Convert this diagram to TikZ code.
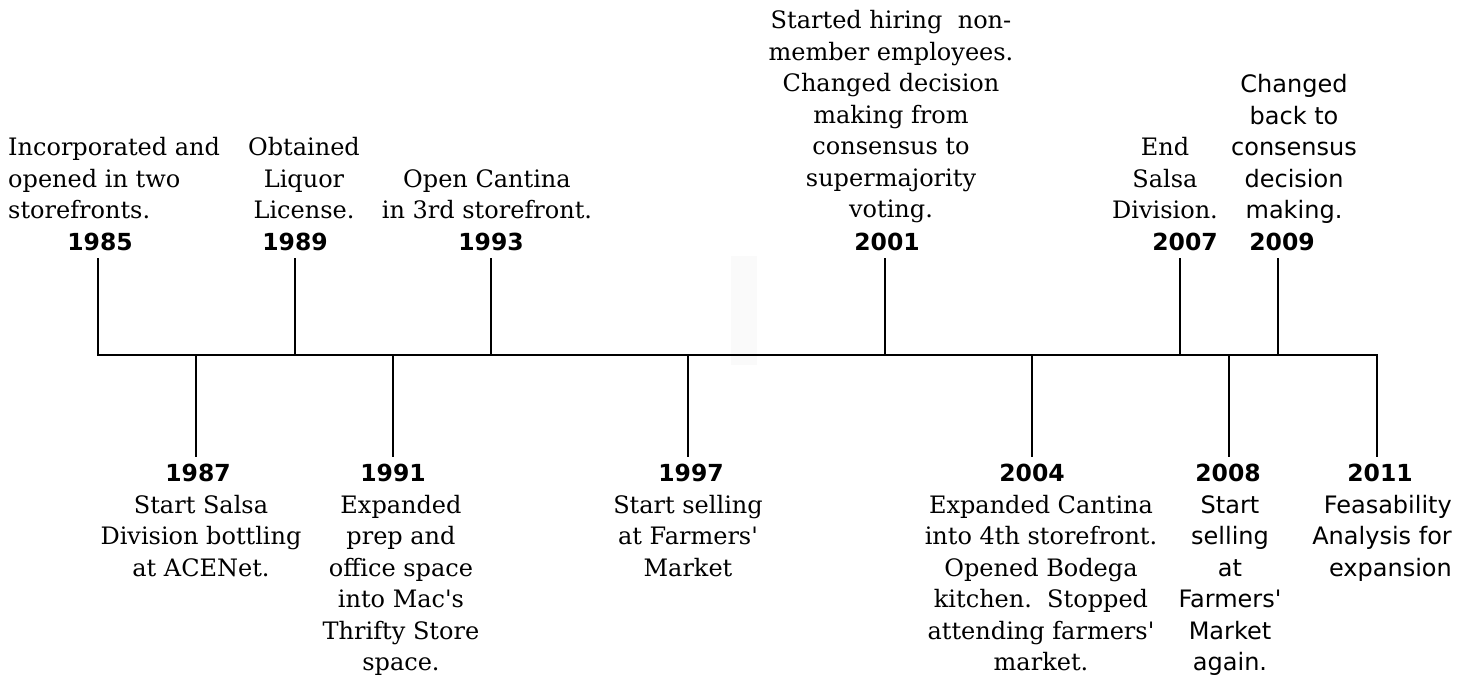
\documentclass[tikz,border=0pt]{standalone}
\usepackage{fontspec}
\setmainfont{DejaVu Serif}
\newfontfamily\yearfont{DejaVu Sans}
\newfontfamily\sanstext{DejaVu Sans}
\newcommand\mydn{\rule[-6pt]{0pt}{6pt}}
\newcommand\myup{\rule{0pt}{20pt}}
\newcommand\apos{\textquotesingle}
\begin{document}
\begin{tikzpicture}[x=1pt,y=-1pt,
  year/.style={font=\yearfont\bfseries\fontsize{23.5}{28}\selectfont, anchor=base, inner sep=0pt},
  txtabove/.style={font=\fontsize{24}{31.5}\selectfont, align=center, anchor=south, inner sep=0pt},
  txtbelow/.style={font=\fontsize{24}{31.5}\selectfont, align=center, anchor=north, inner sep=0pt},
  sanslabel/.style={font=\sanstext\fontsize{24}{31.5}\selectfont},
  tickline/.style={line width=1.5pt, line cap=butt, line join=miter}]
\useasboundingbox (0,0) rectangle (1475,677);
\fill[black!2] (731,256) rectangle (757,365);
% axis coordinates
\foreach \n/\x in {1985/98,1989/295,1993/491,2001/885,2007/1180,2009/1278} {
  \coordinate (a\n) at (\x,355);
  \coordinate (e\n) at (\x,258);
}
\foreach \n/\x in {1987/196,1991/393,1997/688,2004/1032,2008/1229,2011/1377} {
  \coordinate (a\n) at (\x,355);
  \coordinate (e\n) at (\x,457);
}
% axis with end ticks
\draw[tickline] (e1985) -- (a1985) -- (a2011) -- (e2011);
\foreach \n in {1989,1993,2001,2007,2009,1987,1991,1997,2004,2008}
  \draw[tickline] (a\n) -- (e\n);
% years above
\node[year] (y1985) at (100,250) {1985};
\node[year] (y1989) at (295,250) {1989};
\node[year] (y1993) at (491,250) {1993};
\node[year] (y2001) at (887,250) {2001};
\node[year] (y2007) at (1185,250) {2007};
\node[year] (y2009) at (1282,250) {2009};
% years below
\node[year] (y1987) at (198,481.5) {1987};
\node[year] (y1991) at (393,481.5) {1991};
\node[year] (y1997) at (691,481.5) {1997};
\node[year] (y2004) at (1032,481.5) {2004};
\node[year] (y2008) at (1228,481.5) {2008};
\node[year] (y2011) at (1380,481.5) {2011};
% texts above
\node[txtabove, anchor=south west, align=left] (t1985) at (8,225) {Incorporated and\\opened in two\\storefronts.\mydn};
\node[txtabove] (t1989) at (304,225) {Obtained\\Liquor\\License.\mydn};
\node[txtabove] (t1993) at (487,225) {Open Cantina\\in 3rd storefront.\mydn};
\node[txtabove] (t2001) at (891,224) {Started hiring\ \ non-\\member employees.\\Changed decision\\making from\\consensus to\\supermajority\\voting.\mydn};
\node[txtabove] (t2007) at (1165,225) {End\\Salsa\\Division.\mydn};
\node[txtabove, sanslabel] (t2009) at (1294,225) {Changed\\back to\\consensus\\decision\\making.\mydn};
% texts below
\node[txtbelow] (t1987) at (201,493) {\myup Start Salsa\\Division bottling\\at ACENet.};
\node[txtbelow] (t1991) at (401,493) {\myup Expanded\\prep and\\office space\\into Mac\apos s\\Thrifty Store\\space.};
\node[txtbelow] (t1997) at (688,493) {\myup Start selling\\at Farmers\apos\\Market};
\node[txtbelow] (t2004) at (1041,493) {\myup Expanded Cantina\\into 4th storefront.\\Opened Bodega\\kitchen.\ \ Stopped\\attending farmers\apos\\market.};
\node[txtbelow, sanslabel] (t2008) at (1230,493) {\myup Start\\selling\\at\\Farmers'\\Market\\again.};
\node[txtbelow, sanslabel, anchor=north east, align=right] (t2011) at (1452,493) {\myup Feasability\\Analysis for\\expansion};
\end{tikzpicture}
\end{document}
